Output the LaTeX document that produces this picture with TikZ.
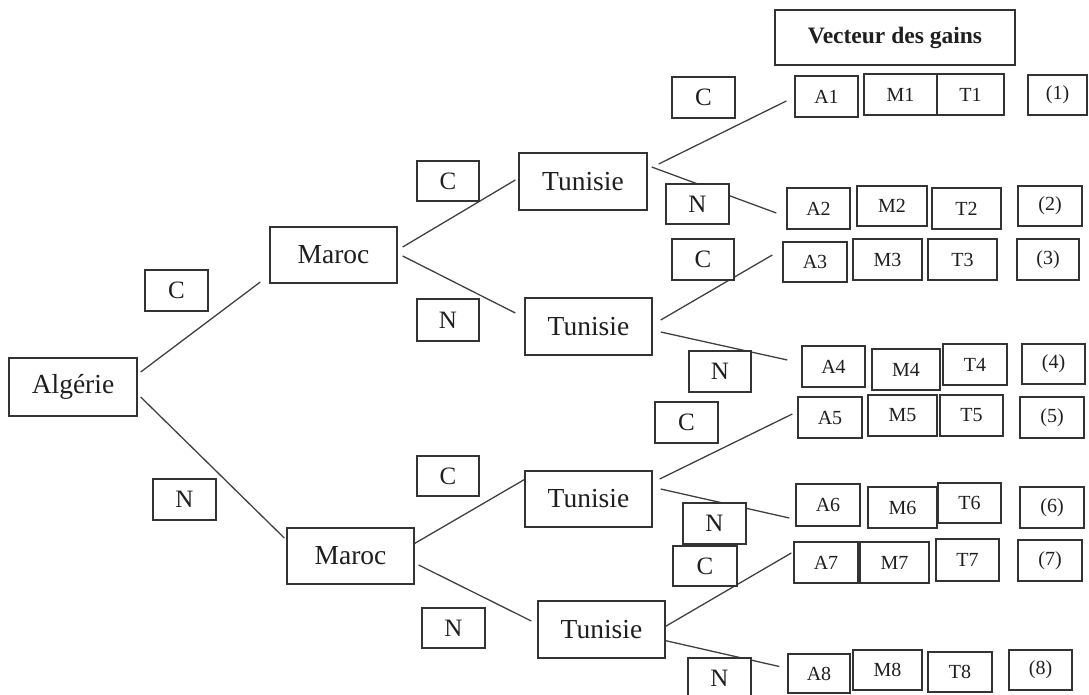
\documentclass[tikz,border=0pt]{standalone}
\usepackage{fontspec}
\setmainfont{Liberation Serif}
\usetikzlibrary{backgrounds}
\newcommand\bx[7]{\node[#1,minimum width={(#4)-(#2)},minimum height={(#5)-(#3)}] (#6) at ({((#2)+(#4))/2},{((#3)+(#5))/2}) {#7};}
\tikzset{
  base/.style={draw=black!80,line width=1.4pt,fill=white,inner sep=0pt,text=black!88},
  big/.style={base,font=\fontsize{27.5}{30}\selectfont},
  lab/.style={base,font=\fontsize{25}{28}\selectfont},
  gain/.style={base,font=\fontsize{20}{22}\selectfont},
  head/.style={base,font=\fontsize{23.5}{26}\selectfont\bfseries},
  conn/.style={draw=black!75,line width=1.3pt}
}
\begin{document}
\begin{tikzpicture}[x=1pt,y=-1pt]
\useasboundingbox (0,0) rectangle (1089,695);
% players
\bx{big}{9}{358}{137}{416}{alg}{Algérie}
\bx{big}{270}{227}{397}{283}{ma}{Maroc}
\bx{big}{287}{528}{414}{584}{mb}{Maroc}
\bx{big}{519}{153}{647}{210}{ta}{Tunisie}
\bx{big}{525}{298}{652}{355}{tb}{Tunisie}
\bx{big}{525}{471}{652}{527}{tc}{Tunisie}
\bx{big}{538}{601}{665}{658}{td}{Tunisie}
% header
\bx{head}{775}{10}{1015}{65}{hd}{Vecteur des gains}
% gains
\bx{gain}{795}{76}{858}{117}{a1}{A1}
\bx{gain}{864}{74}{937}{115}{m1}{M1}
\bx{gain}{937}{74}{1004}{115}{t1}{T1}
\bx{gain}{1028}{75}{1087}{115}{n1}{(1)}
\bx{gain}{787}{188}{850}{229}{a2}{A2}
\bx{gain}{857}{186}{927}{226}{m2}{M2}
\bx{gain}{932}{188}{1001}{229}{t2}{T2}
\bx{gain}{1018}{186}{1082}{226}{n2}{(2)}
\bx{gain}{783}{242}{847}{282}{a3}{A3}
\bx{gain}{853}{239}{922}{280}{m3}{M3}
\bx{gain}{928}{239}{997}{280}{t3}{T3}
\bx{gain}{1017}{239}{1079}{280}{n3}{(3)}
\bx{gain}{802}{346}{865}{387}{a4}{A4}
\bx{gain}{872}{349}{940}{390}{m4}{M4}
\bx{gain}{943}{344}{1007}{385}{t4}{T4}
\bx{gain}{1022}{344}{1085}{384}{n4}{(4)}
\bx{gain}{798}{397}{862}{438}{a5}{A5}
\bx{gain}{868}{395}{937}{436}{m5}{M5}
\bx{gain}{940}{395}{1003}{436}{t5}{T5}
\bx{gain}{1020}{397}{1084}{438}{n5}{(5)}
\bx{gain}{796}{484}{860}{526}{a6}{A6}
\bx{gain}{868}{487}{937}{528}{m6}{M6}
\bx{gain}{938}{483}{1001}{523}{t6}{T6}
\bx{gain}{1020}{487}{1084}{528}{n6}{(6)}
\bx{gain}{794}{542}{858}{583}{a7}{A7}
\bx{gain}{860}{542}{929}{583}{m7}{M7}
\bx{gain}{936}{539}{999}{581}{t7}{T7}
\bx{gain}{1018}{540}{1082}{581}{n7}{(7)}
\bx{gain}{788}{654}{850}{693}{a8}{A8}
\bx{gain}{853}{650}{922}{690}{m8}{M8}
\bx{gain}{928}{652}{992}{692}{t8}{T8}
\bx{gain}{1009}{650}{1072}{690}{n8}{(8)}
% choice labels
\bx{lab}{145}{270}{208}{311}{lc1}{C}
\bx{lab}{153}{479}{216}{520}{ln1}{N}
\bx{lab}{417}{161}{479}{201}{lc2}{C}
\bx{lab}{417}{299}{479}{341}{ln2}{N}
\bx{lab}{417}{456}{479}{496}{lc3}{C}
\bx{lab}{422}{608}{485}{648}{ln3}{N}
\bx{lab}{672}{77}{735}{118}{rc1}{C}
\bx{lab}{666}{184}{729}{224}{rn2}{N}
\bx{lab}{672}{239}{734}{280}{rc3}{C}
\bx{lab}{689}{351}{751}{392}{rn4}{N}
\bx{lab}{655}{402}{718}{443}{rc5}{C}
\bx{lab}{683}{503}{746}{544}{rn6}{N}
\bx{lab}{673}{546}{737}{586}{rc7}{C}
\bx{lab}{688}{658}{751}{699}{rn8}{N}
% connectors
\begin{pgfonlayer}{background}
\draw[conn] ([shift={(3,-15)}]alg.east) -- ([shift={(-9,27)}]ma.west);
\draw[conn] ([shift={(3,10)}]alg.east) -- ([shift={(-2,-18)}]mb.west);
\draw[conn] ([shift={(5,-8)}]ma.east) -- ([shift={(-3,-1.5)}]ta.west);
\draw[conn] ([shift={(5,1)}]ma.east) -- ([shift={(-9,-13.5)}]tb.west);
\draw[conn] ([shift={(-1,-12)}]mb.east) -- ([shift={(1,-20)}]tc.west);
\draw[conn] ([shift={(4,9)}]mb.east) -- ([shift={(-6,-8.5)}]td.west);
\draw[conn] ([shift={(11,-17.5)}]ta.east) -- ([shift={(-8,4.5)}]a1.west);
\draw[conn] ([shift={(4,-14.5)}]ta.east) -- ([shift={(-10,4.5)}]a2.west);
\draw[conn] ([shift={(8,-6.5)}]tb.east) -- ([shift={(-10,-7)}]a3.west);
\draw[conn] ([shift={(8,5.5)}]tb.east) -- ([shift={(-14,-6.5)}]a4.west);
\draw[conn] ([shift={(7,-20)}]tc.east) -- ([shift={(-5,-3.5)}]a5.west);
\draw[conn] ([shift={(8,-10)}]tc.east) -- ([shift={(-6,13)}]a6.west);
\draw[conn] ([shift={(-3,-1.5)}]td.east) -- ([shift={(-2,-9.5)}]a7.west);
\draw[conn] ([shift={(-3,10.5)}]td.east) -- ([shift={(-8,-7)}]a8.west);
\end{pgfonlayer}
\end{tikzpicture}
\end{document}
